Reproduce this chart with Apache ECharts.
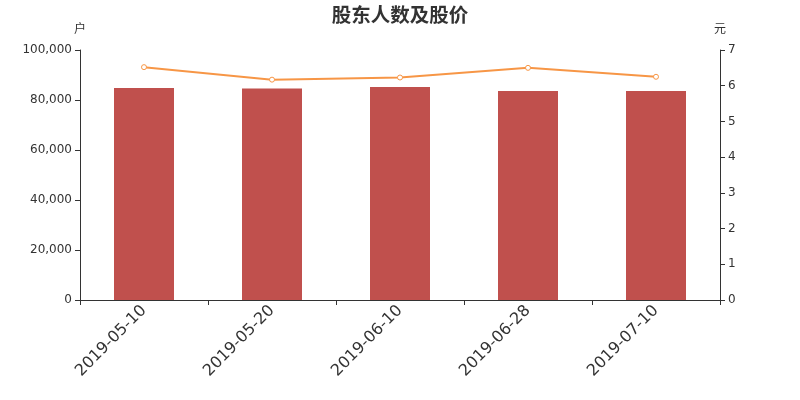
<!DOCTYPE html>
<html><head><meta charset="utf-8">
<script src="https://cdn.jsdelivr.net/npm/echarts@6/dist/echarts.min.js"></script>
<style>html,body{margin:0;padding:0;background:#fff}#c{width:800px;height:400px}</style>
</head><body><div id="c"></div>
<script>
var categories = ['2019-05-10','2019-05-20','2019-06-10','2019-06-28','2019-07-10'];
var holders = [84800, 84650, 85200, 83600, 83650];
var prices = [6.52, 6.17, 6.23, 6.50, 6.25];
var chart = echarts.init(document.getElementById('c'));
var F = 'DejaVu Sans';
chart.setOption({
  animation:false,
  title:{text:'股东人数及股价',left:'center',top:0,textStyle:{fontSize:19.5,fontWeight:'bold',color:'#333',fontFamily:'Noto Sans CJK SC'}},
  grid:{left:80,right:80,top:50,bottom:100},
  xAxis:{type:'category',data:categories,
    axisLine:{lineStyle:{color:'#333'}},axisTick:{show:true,alignWithLabel:false},
    axisLabel:{rotate:45,fontSize:16,color:'#333',margin:8,fontFamily:F}},
  yAxis:[
    {type:'value',name:'户',min:0,max:100000,interval:20000,nameGap:16,
     nameTextStyle:{color:'#333',fontSize:12,align:'center',fontFamily:'Noto Sans CJK SC'},
     axisLine:{show:true,lineStyle:{color:'#333'}},axisTick:{show:true},splitLine:{show:false},
     axisLabel:{color:'#333',fontSize:12,fontFamily:F,formatter:function(v){return v.toLocaleString('en-US');}}},
    {type:'value',name:'元',min:0,max:7,interval:1,nameGap:16,
     nameTextStyle:{color:'#333',fontSize:12,align:'center',fontFamily:'Noto Sans CJK SC'},
     axisLine:{show:true,lineStyle:{color:'#333'}},axisTick:{show:true},splitLine:{show:false},
     axisLabel:{color:'#333',fontSize:12,fontFamily:F}}
  ],
  series:[
    {type:'bar',data:holders,barWidth:60,itemStyle:{color:'#c0504d'},yAxisIndex:0},
    {type:'line',data:prices,yAxisIndex:1,symbol:'circle',symbolSize:5,
     itemStyle:{color:'#fff',borderColor:'#f79646',borderWidth:1},
     lineStyle:{color:'#f79646',width:2}}
  ]
});
</script></body></html>
